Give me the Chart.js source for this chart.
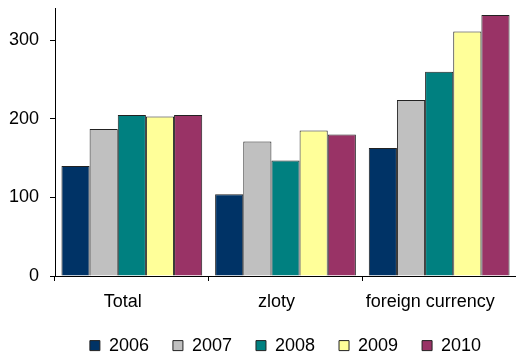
<!DOCTYPE html>
<html>
<head>
<meta charset="utf-8">
<script src="https://cdn.jsdelivr.net/npm/chart.js@4/dist/chart.umd.min.js"></script>
<style>
  html, body { margin: 0; padding: 0; background: #fff; overflow: hidden; }
</style>
</head>
<body>
<canvas id="barChart" width="516" height="356"></canvas>
<script>
// categories and series
var categories = ['Total', 'zloty', 'foreign currency'];
var years = ['2006', '2007', '2008', '2009', '2010'];
var v2006 = [140, 104, 163];
var v2007 = [187, 171, 224];
var v2008 = [205, 147, 260];
var v2009 = [203, 185, 311];
var v2010 = [205, 180, 332];
var yTicks = [0, 100, 200, 300];

var colours = ['#003366', '#C0C0C0', '#008080', '#FFFF99', '#993366'];
var seriesValues = [v2006, v2007, v2008, v2009, v2010];

var datasets = years.map(function(y, i){
	return {
		label: y,
		data: seriesValues[i],
		backgroundColor: colours[i],
		borderColor: '#222',
		borderWidth: 1,
		categoryPercentage: 0.916,
		barPercentage: 1
	};
});

var font = { family: '"Liberation Sans", Arial, sans-serif', size: 18 };

// keep the legend box short so it sits right under the axis labels
var legendFit = {
	id: 'legendFit',
	beforeLayout: function(chart){
		var lg = chart.legend;
		if (lg && !lg._patched) {
			var fit = lg.fit;
			lg.fit = function(){ fit.call(this); this.height = 43.4; };
			lg._patched = true;
		}
	}
};

var ctx = document.getElementById('barChart').getContext('2d');
var chart = new Chart(ctx, {
	type: 'bar',
	data: { labels: categories, datasets: datasets },
	plugins: [legendFit],
	options: {
		responsive: false,
		animation: false,
		layout: { padding: { left: 9, right: 0, top: 8, bottom: 0 } },
		plugins: {
			tooltip: { enabled: false },
			legend: {
				position: 'bottom',
				fullSize: false,
				labels: {
					boxWidth: 10,
					boxHeight: 10,
					padding: 24,
					color: '#000',
					font: font
				}
			}
		},
		scales: {
			x: {
				afterFit: function(s){ s.height = 36.6; s.paddingLeft = 0; s.paddingRight = 0; },
				grid: { display: true, drawOnChartArea: false, tickLength: 5, color: '#000' },
				border: { display: true, color: '#000', width: 1 },
				ticks: { color: '#000', font: font, padding: 10, labelOffset: -9, maxRotation: 0 }
			},
			y: {
				min: 0,
				max: 341,
				afterBuildTicks: function(scale){
					scale.ticks = yTicks.map(function(v){ return { value: v }; });
				},
				afterFit: function(s){ s.width = 46; s.paddingTop = 0; s.paddingBottom = 0; },
				grid: { display: true, drawOnChartArea: false, tickLength: 5, color: '#000' },
				border: { display: true, color: '#000', width: 1 },
				ticks: { color: '#000', font: font, padding: 11 }
			}
		}
	}
});
</script>
</body>
</html>
